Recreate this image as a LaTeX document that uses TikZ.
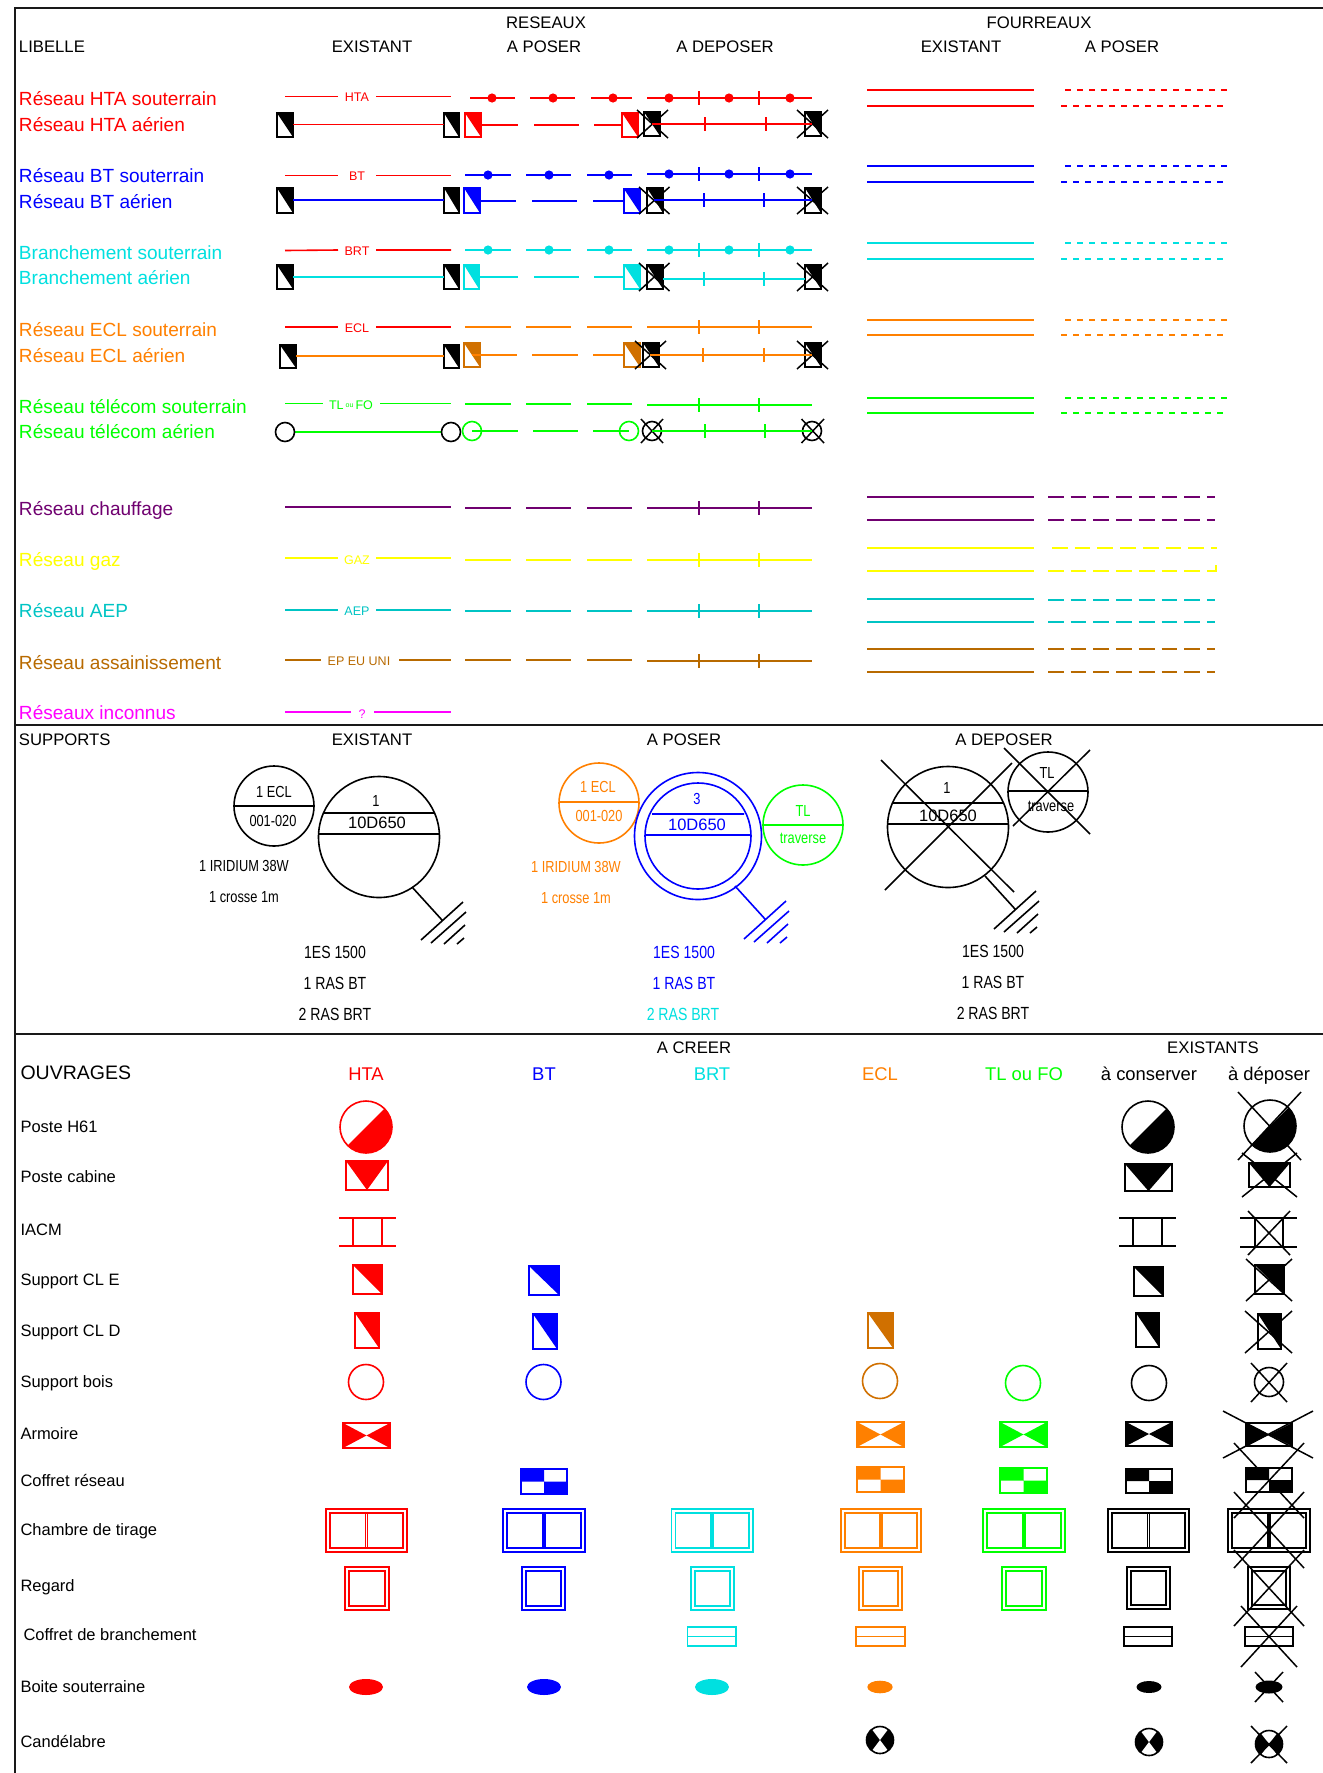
\documentclass[tikz,border=0pt]{standalone}
\usepackage{fontspec}
\setmainfont{Liberation Sans}
\newfontfamily\nf[FakeStretch=0.8]{Liberation Sans}
\definecolor{cr}{HTML}{FF0000}
\definecolor{cb}{HTML}{0000FF}
\definecolor{cc}{HTML}{00E0E0}
\definecolor{co}{HTML}{FF8000}
\definecolor{cd}{HTML}{D07000}
\definecolor{cg}{HTML}{00FF00}
\definecolor{cp}{HTML}{700070}
\definecolor{cy}{HTML}{FFFF00}
\definecolor{ct}{HTML}{00C4C4}
\definecolor{cbrn}{HTML}{B86A00}
\definecolor{cf}{HTML}{FF00FF}
\newcounter{tn}
\tikzset{
  ln/.style={line width=1.6pt},
  xl/.style={line width=1.5pt,black},
  rule/.style={line width=2pt,black!90},
  dshort/.style={line width=1.6pt,dash pattern=on 6pt off 6pt},
  dlong/.style={line width=1.6pt,dash pattern=on 15.7pt off 7pt},
  lbl/.style={inner sep=0pt,outer sep=0pt},
  thead/.style={lbl,yshift=-0.8pt,font=\fontsize{16.7}{16.7}\selectfont,text height=12pt,text depth=0pt},
  tname/.style={lbl,yshift=-0.4pt,anchor=west,font=\fontsize{19.05}{19.05}\selectfont,text height=13.7pt,text depth=0pt},
  tsmall/.style={lbl,yshift=-0.6pt,font=\fontsize{12.5}{12.5}\selectfont,text height=9pt,text depth=0pt},
  trow/.style={lbl,yshift=-1pt,anchor=west,font=\fontsize{16.5}{16.5}\selectfont,text height=11.9pt,text depth=0pt},
  tcol/.style={lbl,font=\fontsize{18.4}{18.4}\selectfont,text height=13.2pt,text depth=0pt},
  tpole/.style={lbl,font=\nf\fontsize{16}{16}\selectfont,text height=11.5pt,text depth=0pt},
  tpoleb/.style={lbl,font=\nf\fontsize{17.6}{17.6}\selectfont,text height=12.6pt,text depth=0pt},
  tbig/.style={lbl,font=\fontsize{16.5}{16.5}\selectfont,text height=11.9pt,text depth=0pt},
}
\newcommand\Tx[5]{\stepcounter{tn}\node[#1,text=#2] (t\arabic{tn}) at (#3,#4) {#5};}
\newcommand\XX[4]{\draw[xl] (#1,#2)--(#3,#4) (#1,#4)--(#3,#2);}
% support with half-filled rectangle
\newcommand\Cls[5]{\fill[white] (#2,#3) rectangle (#4,#5);\fill[#1] (#2,#3)--(#4,#3)--(#4,#5)--cycle;\draw[#1,ln] (#2,#3) rectangle (#4,#5);}
\newcommand\Tick[3]{\draw[#1,ln] (#2,#3-7)--(#2,#3+7);}
\newcommand\Seg[4]{\draw[#1,ln] (#2,#4)--(#3,#4);}
\newcommand\Dot[3]{\fill[#1] (#2,#3) circle (4.6pt);}
\newcommand\Poser[2]{\Seg{#1}{465}{511}{#2}\Seg{#1}{526}{571}{#2}\Seg{#1}{587}{632}{#2}}
\newcommand\Dep[2]{\Seg{#1}{647}{812}{#2}\Tick{#1}{699}{#2}\Tick{#1}{759}{#2}}
\newcommand\DepD[2]{\Dot{#1}{669}{#2}\Dot{#1}{729}{#2}\Dot{#1}{790}{#2}}
\newcommand\Four[3]{\draw[#1,ln] (867,#2)--(1034,#2);\draw[#1,ln] (867,#3)--(1034,#3);}
\newcommand\FourS[3]{\draw[#1,dshort] (1065,#2)--(1228,#2);\draw[#1,dshort] (1061,#3)--(1223,#3);}
\newcommand\FourL[3]{\draw[#1,dlong] (1048,#2)--(1215,#2);\draw[#1,dlong] (1048,#3)--(1215,#3);}
\newcommand\Earth[3]{\begin{scope}[shift={(#2,#3)}]\draw[#1,ln] (412,887)--(442,920) (421,940)--(463,902) (431,943)--(466,912) (444,944)--(465,925) (457,944)--(464,938);\end{scope}}
\newcommand\Hsix[4]{\begin{scope}[shift={(#2,#3)}]\fill[white] (0,0) circle (#4pt);\begin{scope}\clip (0,0) circle (#4pt);\fill[#1] (#4,-#4)--(#4,#4)--(-#4,#4)--cycle;\end{scope}\draw[#1,ln] (0,0) circle (#4pt);\end{scope}}
\newcommand\Cabine[5]{\fill[#1] (#2,#3)--(#4,#3)--({(#2+#4)/2},#5)--cycle;\draw[#1,ln] (#2,#3) rectangle (#4,#5);}
\newcommand\Iacm[7]{\draw[#1,ln] (#2,#4)--(#3,#4) (#2,#5)--(#3,#5) (#6,#4)--(#6,#5) (#7,#4)--(#7,#5);}
\newcommand\Arm[5]{\fill[#1] (#2,#3)--({(#2+#4)/2},{(#3+#5)/2})--(#2,#5)--cycle (#4,#3)--({(#2+#4)/2},{(#3+#5)/2})--(#4,#5)--cycle;\draw[#1,ln] (#2,#3) rectangle (#4,#5);}
\newcommand\Chk[5]{\fill[#1] (#2,#3) rectangle ({(#2+#4)/2},{(#3+#5)/2}) ({(#2+#4)/2},{(#3+#5)/2}) rectangle (#4,#5);\draw[#1,ln] (#2,#3) rectangle (#4,#5);}
\newcommand\Chb[5]{\draw[#1,line width=1.6pt] (#2,#3) rectangle (#4,#5) (#2+4,#3+4) rectangle (#4-4,#5-4) ({(#2+#4)/2-1},#3+4)--({(#2+#4)/2-1},#5-4) ({(#2+#4)/2+1},#3+4)--({(#2+#4)/2+1},#5-4);}
\newcommand\Reg[5]{\draw[#1,line width=1.6pt] (#2,#3) rectangle (#4,#5) (#2+4,#3+4) rectangle (#4-4,#5-4);}
\newcommand\Cbr[5]{\draw[#1,ln] (#2,#3) rectangle (#4,#5) (#2,{(#3+#5)/2})--(#4,{(#3+#5)/2});}
\newcommand\Cand[2]{\begin{scope}[shift={(#1,#2)}]\begin{scope}\clip (0,0) circle (13.5pt);\fill[black] (-14,-14) rectangle (14,14);\fill[white] (0,0)--(-10.5,-14)--(10.5,-14)--cycle (0,0)--(-10.5,14)--(10.5,14)--cycle;\end{scope}\draw[black,ln] (0,0) circle (13.5pt);\end{scope}}
\begin{document}
\begin{tikzpicture}[x=1pt,y=-1pt]
\useasboundingbox (0,0) rectangle (1323,1773);
\fill[white] (0,0) rectangle (1323,1773);
% frame
\draw[rule] (15,1773)--(15,8)--(1323,8);
\draw[rule] (15,725)--(1323,725);
\draw[rule] (15,1034)--(1323,1034);
% headers
\Tx{thead}{black}{546}{22}{RESEAUX}
\Tx{thead}{black}{1039}{22}{FOURREAUX}
\Tx{thead,anchor=west}{black}{19}{46}{LIBELLE}
\Tx{thead}{black}{372}{46}{EXISTANT}
\Tx{thead}{black}{544}{46}{A POSER}
\Tx{thead}{black}{725}{46}{A DEPOSER}
\Tx{thead}{black}{961}{46}{EXISTANT}
\Tx{thead}{black}{1122}{46}{A POSER}
% names
\Tx{tname}{cr}{19}{98}{Réseau HTA souterrain}
\Tx{tname}{cr}{19}{124}{Réseau HTA aérien}
\Tx{tname}{cb}{19}{175}{Réseau BT souterrain}
\Tx{tname}{cb}{19}{201}{Réseau BT aérien}
\Tx{tname}{cc}{19}{252}{Branchement souterrain}
\Tx{tname}{cc}{19}{277}{Branchement aérien}
\Tx{tname}{co}{19}{329}{Réseau ECL souterrain}
\Tx{tname}{co}{19}{355}{Réseau ECL aérien}
\Tx{tname}{cg}{19}{406}{Réseau télécom souterrain}
\Tx{tname}{cg}{19}{431}{Réseau télécom aérien}
\Tx{tname}{cp}{19}{508}{Réseau chauffage}
\Tx{tname}{cy}{19}{559.5}{Réseau gaz}
\Tx{tname}{ct}{19}{610.5}{Réseau AEP}
\Tx{tname}{cbrn}{19}{662.5}{Réseau assainissement}
\Tx{tname}{cf}{19}{712.5}{Réseaux inconnus}
% --- HTA
\draw[cr,ln] (285,96.5)--(338,96.5) (376,96.5)--(451,96.5);
\Tx{tsmall}{cr}{357}{96}{HTA}
\Seg{cr}{470}{515}{98}\Seg{cr}{530}{575}{98}\Seg{cr}{591}{632}{98}
\Dot{cr}{492}{98}\Dot{cr}{553}{98}\Dot{cr}{613}{98}
\Dep{cr}{98}\DepD{cr}{98}
\Cls{black}{277}{113}{293}{137}\Cls{black}{444}{113}{459}{137}
\Seg{cr}{293}{444}{124.5}
\Cls{cr}{465}{113}{481}{137}
\Seg{cr}{481}{518}{125}\Seg{cr}{534}{579}{125}\Seg{cr}{594}{622}{125}
\Cls{cr}{622}{113}{638}{137}
\Cls{black}{644}{112}{660}{136}\XX{637}{110}{668}{138}
\Cls{black}{805}{112}{821}{136}\XX{797}{110}{828}{138}
\Seg{cr}{652}{812}{124}\Tick{cr}{705}{124}\Tick{cr}{766}{124}
% --- BT
\draw[cr,ln] (285,175.5)--(338,175.5) (376,175.5)--(451,175.5);
\Tx{tsmall}{cr}{357}{175}{BT}
\Poser{cb}{175}\Dot{cb}{488}{175}\Dot{cb}{549}{175}\Dot{cb}{609}{175}
\Dep{cb}{174}\DepD{cb}{174}
\Cls{black}{277}{188}{293}{213}\Cls{black}{444}{188}{459}{213}
\Seg{cb}{293}{444}{200}
\Cls{cb}{464}{188}{480}{213}
\Seg{cb}{480}{516}{201}\Seg{cb}{532}{577}{201}\Seg{cb}{593}{624}{201}
\Cls{cb}{624}{189}{640}{213}
\Cls{black}{647}{188}{663}{213}\XX{639}{187}{669.5}{214}
\Cls{black}{805}{188}{821}{213}\XX{797}{187}{828}{214}
\Seg{cb}{654}{812}{200}\Tick{cb}{704}{200}\Tick{cb}{764}{200}
% --- BRT
\draw[cr,ln] (285,250.5)--(338,250) (376,250)--(451,250);
\Tx{tsmall}{cr}{357}{250}{BRT}
\Poser{cc}{250}\Dot{cc}{488}{250}\Dot{cc}{549}{250}\Dot{cc}{609}{250}
\Dep{cc}{250}\DepD{cc}{250}
\Cls{black}{277}{265}{293}{289}\Cls{black}{444}{265}{459}{289}
\Seg{cc}{293}{444}{277}
\Cls{cc}{464}{265}{479}{289}
\Seg{cc}{479}{518}{277}\Seg{cc}{534}{579}{277}\Seg{cc}{594}{624}{277}
\Cls{cc}{624}{265}{640}{289}
\Cls{black}{647}{265}{663}{289}\XX{639}{263}{669.5}{291}
\Cls{black}{805}{265}{821}{289}\XX{797}{263}{828}{291}
\Seg{cc}{663}{805}{279}\Tick{cc}{704}{279}\Tick{cc}{764}{279}
% --- ECL
\draw[cr,ln] (285,327)--(338,327) (376,327)--(451,327);
\Tx{tsmall}{cr}{357}{327}{ECL}
\Poser{co}{327}
\Dep{co}{327}
\Cls{black}{280}{345}{296}{368}\Cls{black}{444}{345}{459}{368}
\Seg{co}{296}{444}{356}
\Cls{cd}{464}{343}{480}{367}
\Seg{co}{472}{517}{355}\Seg{co}{532}{578}{355}\Seg{co}{593}{624}{355}
\Cls{cd}{624}{343}{640}{367}
\Cls{black}{643}{343}{659}{367}\XX{635}{341}{666}{369}
\Cls{black}{805}{343}{821}{367}\XX{797}{341}{828}{369}
\Seg{co}{650}{812}{355}\Tick{co}{703}{355}\Tick{co}{764}{355}
% --- TL
\draw[cg,ln] (285,403.5)--(323,403.5) (380,403.5)--(451,403.5);
\stepcounter{tn}\node[tsmall,text=cg] (t\arabic{tn}) at (351,404) {TL\,{\fontsize{7}{7}\selectfont\raisebox{2pt}{ou}}\,FO};
\Poser{cg}{404}
\Dep{cg}{405}
\Seg{cg}{294}{442}{432}
\draw[black,ln] (285,432) circle (9.5pt) (451,432) circle (9.5pt);
\draw[cg,ln] (472,431) circle (9.5pt) (629,431) circle (9.5pt);
\Seg{cg}{472}{517.5}{431}\Seg{cg}{533}{578}{431}\Seg{cg}{593}{629}{431}
\draw[black,ln] (652,431) circle (9.5pt) (812,431) circle (9.5pt);
\XX{641}{419}{663}{443}\XX{801.5}{419}{824}{443}
\Seg{cg}{652}{812}{431}\Tick{cg}{705}{431}\Tick{cg}{765}{431}
% --- chauffage
\Seg{cp}{285}{451}{507}\Poser{cp}{508}\Dep{cp}{508}
% --- gaz
\draw[cy,ln] (285,558)--(338,558) (376,558)--(451,558);
\Tx{tsmall}{cy}{357}{559}{GAZ}
\Poser{cy}{560}\Dep{cy}{560}
% --- AEP
\draw[ct,ln] (285,610)--(338,610) (376,610)--(451,610);
\Tx{tsmall}{ct}{357}{610}{AEP}
\Poser{ct}{611}\Dep{ct}{611}
% --- assainissement
\draw[cbrn,ln] (285,660)--(321,660) (399,660)--(451,660);
\Tx{tsmall}{cbrn}{359}{660}{EP EU UNI}
\Poser{cbrn}{660}\Dep{cbrn}{661}
% --- inconnus
\draw[cf,ln] (285,712)--(351,712) (374,712)--(451,712);
\Tx{tsmall}{cf}{362}{713}{?}
% --- fourreaux
\Four{cr}{90}{106}\FourS{cr}{90}{106}
\Four{cb}{166}{182}\FourS{cb}{166}{182}
\Four{cc}{243}{259}\FourS{cc}{243}{259}
\Four{co}{320}{335}\FourS{co}{320}{335}
\Four{cg}{398}{413}\FourS{cg}{398}{413}
\Four{cp}{497}{520}\FourL{cp}{497}{520}
\Four{cy}{548}{571}\draw[cy,dlong] (1052,548)--(1217,548);\draw[cy,dlong] (1048,571)--(1215,571);
\draw[cy,line width=1.4pt] (1210,571)--(1216,571)--(1216,565);
\Four{ct}{599}{622}\FourL{ct}{600}{622}
\Four{cbrn}{649}{672}\FourL{cbrn}{649}{672}
% ============ SUPPORTS
\Tx{thead,anchor=west}{black}{19}{739}{SUPPORTS}
\Tx{thead}{black}{372}{739}{EXISTANT}
\Tx{thead}{black}{684}{739}{A POSER}
\Tx{thead}{black}{1004}{739}{A DEPOSER}
% existant
\draw[black,ln] (274,806) circle (40pt) (234,806)--(314,806);
\Tx{tpole}{black}{274}{792}{1 ECL}
\Tx{tpole}{black}{273}{821}{001-020}
\draw[black,ln] (379,837) circle (60.5pt) (323,813)--(435,813) (319,834)--(439,834);
\Tx{tpole}{black}{376}{801}{1}
\Tx{tbig}{black}{377}{823}{10D650}
\Earth{black}{0}{0}
\Tx{tpole}{black}{244}{866}{1 IRIDIUM 38W}
\Tx{tpole}{black}{244}{897}{1 crosse 1m}
\Tx{tpoleb}{black}{335}{952}{1ES 1500}
\Tx{tpoleb}{black}{335}{983}{1 RAS BT}
\Tx{tpoleb}{black}{335}{1014}{2 RAS BRT}
% a poser
\draw[co,ln] (599,803) circle (40pt) (559,802)--(639,802);
\Tx{tpole}{co}{598}{787}{1 ECL}
\Tx{tpole}{co}{599}{816}{001-020}
\Tx{tpole}{co}{576}{867}{1 IRIDIUM 38W}
\Tx{tpole}{co}{576}{898}{1 crosse 1m}
\draw[cb,ln] (698,836) circle (63.5pt) (698,836) circle (53pt) (652,814)--(744,814) (645,835)--(751,835);
\Tx{tpole}{cb}{697}{799}{3}
\Tx{tbig}{cb}{697}{825}{10D650}
\Earth{cb}{323}{-1}
\draw[cg,ln] (803,825) circle (40pt) (763,825)--(843,825);
\Tx{tpole}{cg}{803}{811}{TL}
\Tx{tpole}{cg}{803}{838}{traverse}
\Tx{tpoleb}{cb}{684}{952}{1ES 1500}
\Tx{tpoleb}{cb}{684}{983}{1 RAS BT}
\Tx{tpoleb}{cc}{683}{1014}{2 RAS BRT}
% a deposer
\draw[black,ln] (948,827) circle (60.5pt) (892,803)--(1004,803) (888,824)--(1008,824);
\Tx{tpole}{black}{947}{788}{1}
\Tx{tbig}{black}{948}{816}{10D650}
\draw[xl] (881,760)--(1014,892) (885,890)--(1012,763);
\Earth{black}{573}{-11}
\draw[black,ln] (1048,792) circle (40pt) (1008,791)--(1088,791);
\Tx{tpole}{black}{1047}{773}{TL}
\Tx{tpole}{black}{1051}{806}{traverse}
\draw[xl] (1004,748)--(1090,834) (1013,826)--(1090,750);
\Tx{tpoleb}{black}{993}{951}{1ES 1500}
\Tx{tpoleb}{black}{993}{982}{1 RAS BT}
\Tx{tpoleb}{black}{993}{1013}{2 RAS BRT}
% ============ OUVRAGES
\Tx{thead}{black}{694}{1047}{A CREER}
\Tx{thead}{black}{1213}{1047}{EXISTANTS}
\Tx{lbl,anchor=west,font=\fontsize{19.5}{19.5}\selectfont,text height=14pt,text depth=0pt}{black}{20.5}{1072}{OUVRAGES}
\Tx{tcol}{cr}{366}{1074}{HTA}
\Tx{tcol}{cb}{544}{1074}{BT}
\Tx{tcol}{cc}{712}{1074}{BRT}
\Tx{tcol}{co}{880}{1074}{ECL}
\Tx{tcol}{cg}{1024}{1074}{TL ou FO}
\Tx{tcol}{black}{1149}{1074}{à conserver}
\Tx{tcol}{black}{1269}{1074}{à déposer}
\Tx{trow}{black}{20.5}{1126}{Poste H61}
\Tx{trow}{black}{20.5}{1176}{Poste cabine}
\Tx{trow}{black}{20.5}{1229}{IACM}
\Tx{trow}{black}{20.5}{1279}{Support CL E}
\Tx{trow}{black}{20.5}{1330}{Support CL D}
\Tx{trow}{black}{20.5}{1381}{Support bois}
\Tx{trow}{black}{20.5}{1433}{Armoire}
\Tx{trow}{black}{20.5}{1480}{Coffret réseau}
\Tx{trow}{black}{20.5}{1529}{Chambre de tirage}
\Tx{trow}{black}{20.5}{1585}{Regard}
\Tx{trow}{black}{23.5}{1634}{Coffret de branchement}
\Tx{trow}{black}{20.5}{1686}{Boite souterraine}
\Tx{trow}{black}{20.5}{1741}{Candélabre}
% H61
\Hsix{cr}{366}{1127}{26}
\Hsix{black}{1148}{1127}{26}
\Hsix{black}{1270}{1126}{26}\XX{1238}{1092}{1301}{1160}
% cabine
\Cabine{cr}{346}{1161}{388}{1190}
\Cabine{black}{1125}{1164}{1172}{1191}
\Cabine{black}{1249}{1163}{1290}{1187}\XX{1242}{1153}{1297}{1197}
% IACM
\Iacm{cr}{339}{396}{1218}{1246}{353}{382}
\Iacm{black}{1119}{1176}{1218}{1246}{1133}{1162}
\Iacm{black}{1240}{1297}{1218}{1247}{1255}{1283}\XX{1248}{1211}{1290}{1255}
% CL E
\Cls{cr}{353}{1265}{382}{1294}
\Cls{cb}{529}{1266}{559}{1295}
\Cls{black}{1134}{1267}{1163}{1296}
\Cls{black}{1255}{1265}{1284}{1294}\XX{1246}{1259}{1292}{1301}
% CL D
\Cls{cr}{355}{1313}{379}{1348}
\Cls{cb}{533}{1314}{557}{1349}
\Cls{cd}{868}{1313}{893}{1348}
\Cls{black}{1136}{1313}{1159}{1347}
\Cls{black}{1258}{1314}{1281}{1349}\XX{1245}{1311}{1292}{1353}
% bois
\draw[cr,ln] (366,1382) circle (17.5pt);
\draw[cb,ln] (543.5,1382) circle (17.5pt);
\draw[cd,ln] (880,1381) circle (17.5pt);
\draw[cg,ln] (1023,1383) circle (17.5pt);
\draw[black,ln] (1149,1383) circle (17.5pt);
\draw[black,ln] (1269,1382) circle (14.5pt);\XX{1251}{1363}{1287}{1402}
% armoire
\Arm{cr}{343}{1423}{390}{1448}
\Arm{co}{857}{1422}{904}{1447}
\Arm{cg}{1000}{1422}{1047}{1447}
\Arm{black}{1126}{1422}{1172}{1446}
\Arm{black}{1246}{1423}{1292}{1446}\XX{1223}{1411}{1313}{1458}
% coffret reseau
\Chk{cb}{521}{1469}{567}{1494}
\Chk{co}{857}{1467}{904}{1492}
\Chk{cg}{1000}{1468}{1047}{1493}
\Chk{black}{1126}{1469}{1172}{1493}
\Chk{black}{1246}{1468}{1292}{1492}\XX{1234}{1443}{1304}{1518}
% chambre
\Chb{cr}{326}{1509}{407}{1552}
\Chb{cb}{503}{1509}{585}{1552}
\Chb{cc}{671.5}{1509}{753}{1552}
\Chb{co}{841}{1509}{921}{1552}
\Chb{cg}{983}{1509}{1065}{1552}
\Chb{black}{1108}{1509}{1189}{1552}
\Chb{black}{1228}{1509}{1310}{1552}\XX{1234}{1492}{1304}{1568}
% regard
\Reg{cr}{345}{1567}{389}{1610}
\Reg{cb}{522}{1567}{565}{1610}
\Reg{cc}{691}{1567}{734}{1610}
\Reg{co}{859}{1567}{902}{1610}
\Reg{cg}{1002}{1567}{1046}{1610}
\Reg{black}{1127}{1567}{1170}{1609}
\Reg{black}{1248}{1567}{1290}{1609}\XX{1234}{1550}{1304}{1626}
% coffret branchement
\Cbr{cc}{687.5}{1627}{736}{1646}
\Cbr{co}{856}{1627}{905}{1646}
\Cbr{black}{1124}{1627}{1172}{1646}
\Cbr{black}{1245}{1627}{1293}{1646}\XX{1241}{1606}{1297}{1667}
% boite
\fill[cr] (366,1687) ellipse (17pt and 8pt);
\fill[cb] (544,1687) ellipse (17pt and 8pt);
\fill[cc] (712,1687) ellipse (17pt and 8pt);
\fill[co] (880,1687) ellipse (12.7pt and 6.3pt);
\fill[black] (1149,1687) ellipse (12.5pt and 6pt);
\fill[black] (1269,1687) ellipse (13.5pt and 6.5pt);\XX{1255}{1672}{1283}{1702}
% candelabre
\Cand{880}{1740}
\Cand{1149}{1742}
\Cand{1269}{1744}\XX{1251}{1726}{1287}{1763}
\end{tikzpicture}
\end{document}
